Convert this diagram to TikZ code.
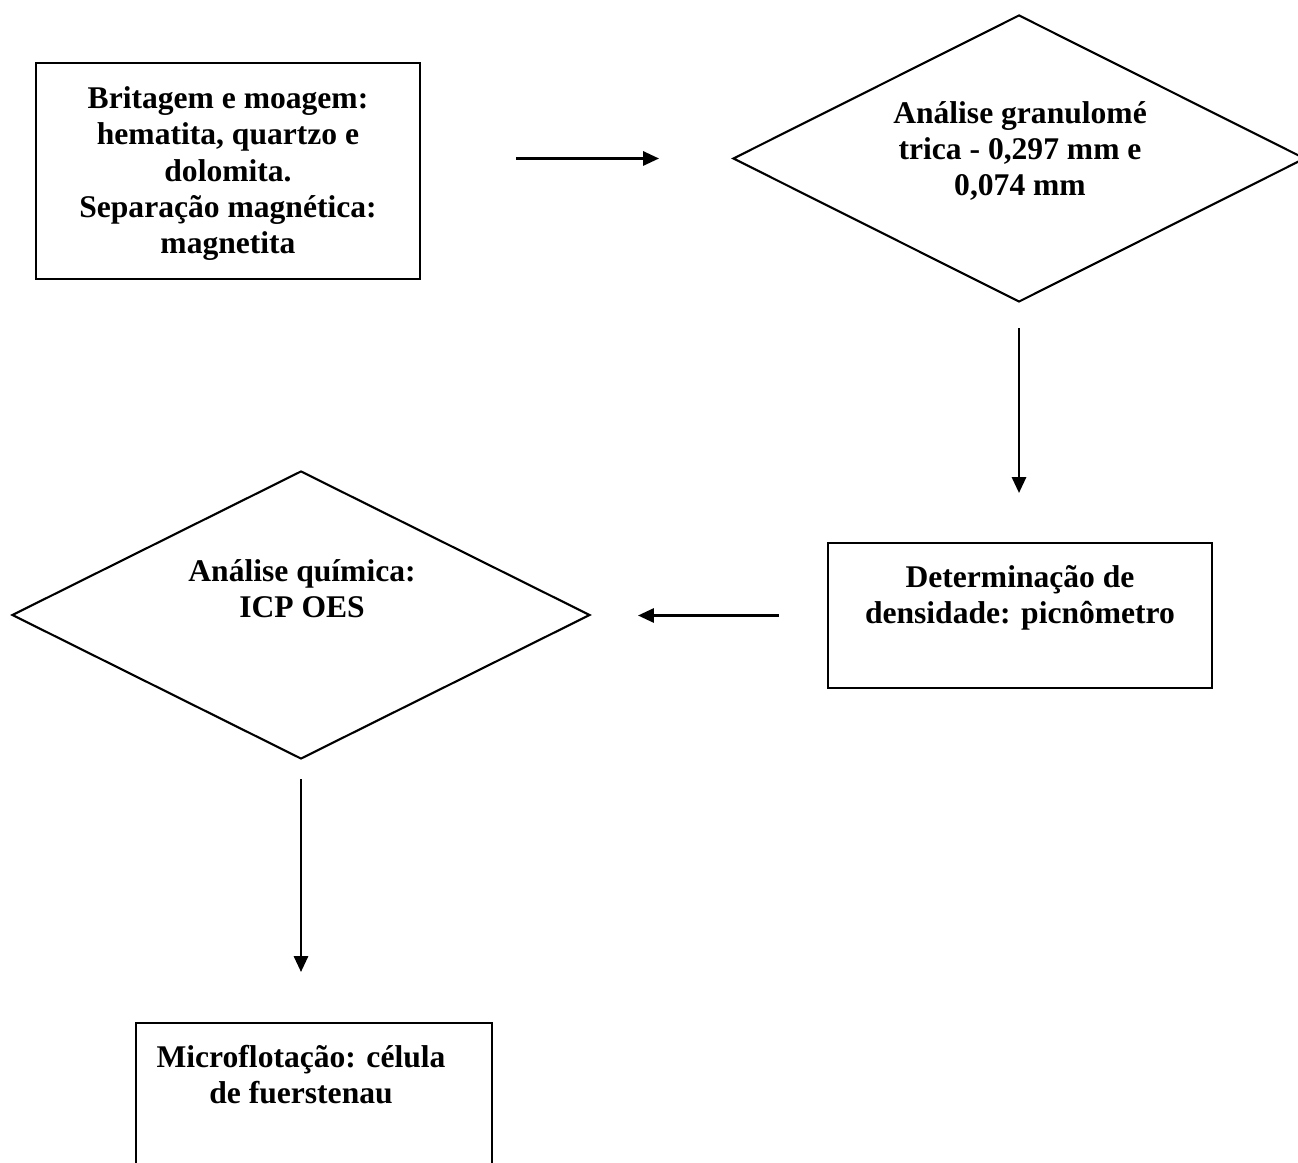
\documentclass[tikz,border=0pt]{standalone}
\usepackage{fontspec}
\setmainfont{Liberation Serif}
\usetikzlibrary{shapes.geometric,arrows.meta,calc}
\def\pxu{0.38pt}
\tikzset{
  caixa/.style={draw,line width=0.8pt,rectangle,inner sep=0pt},
  losango/.style={draw,line width=0.8pt,diamond,inner sep=0pt},
  texto/.style={align=center,inner sep=0pt,anchor=base,font=\bfseries\fontsize{12}{13.8}\selectfont},
  seta/.style={line width=0.8pt,-{Triangle[length=6pt,width=5.4pt]}}
}
\begin{document}
\begin{tikzpicture}[x=0.38pt,y=-0.38pt]
\clip (0,0) rectangle (1298,1163);%

% Drawing boxes and diamonds
\node[caixa,minimum width=384*\pxu,minimum height=216*\pxu] (brit) at (228,171) {};%
\node[losango,minimum width=572*\pxu,minimum height=287*\pxu] (gran) at (1019,158.5) {};%
\node[caixa,minimum width=384*\pxu,minimum height=145*\pxu] (dens) at (1020,615.5) {};%
\node[losango,minimum width=578*\pxu,minimum height=288*\pxu] (quim) at (301,615) {};%
\node[caixa,minimum width=356*\pxu,minimum height=180*\pxu] (micro) at (314,1113) {};%

% Drawing texts (base = last line)
\node[texto] (britTxt) at ($(brit.north)+(0,192)$) {Britagem e moagem:\\hematita, quartzo e\\dolomita.\\Separação magnética:\\magnetita};%
\node[texto] (granTxt) at ($(gran.north)+(1,182)$) {Análise granulomé\\trica - 0,297 mm e\\0,074 mm};%
\node[texto] (densTxt) at ($(dens.north)+(0,82)$) {Determinação de\\densidade: picnômetro};%
\node[texto] (quimTxt) at ($(quim.north)+(1,148)$) {Análise química:\\ICP OES};%
\node[texto] (microTxt) at ($(micro.north)+(-13,82)$) {Microflotação: célula\\de fuerstenau};%

% Drawing arrows
\draw[seta] ($(brit.east |- gran.west)+(95,0)$) -- ($(gran.west)+(-73,0)$);%
\draw[seta] ($(gran.south)+(0,25)$) -- ($(dens.north -| gran.south)+(0,-49)$);%
\draw[seta] ($(dens.west)+(-48,0)$) -- ($(quim.east |- dens.west)+(47,0)$);%
\draw[seta] ($(quim.south)+(0,19)$) -- ($(micro.north -| quim.south)+(0,-50)$);%
\end{tikzpicture}
\end{document}
